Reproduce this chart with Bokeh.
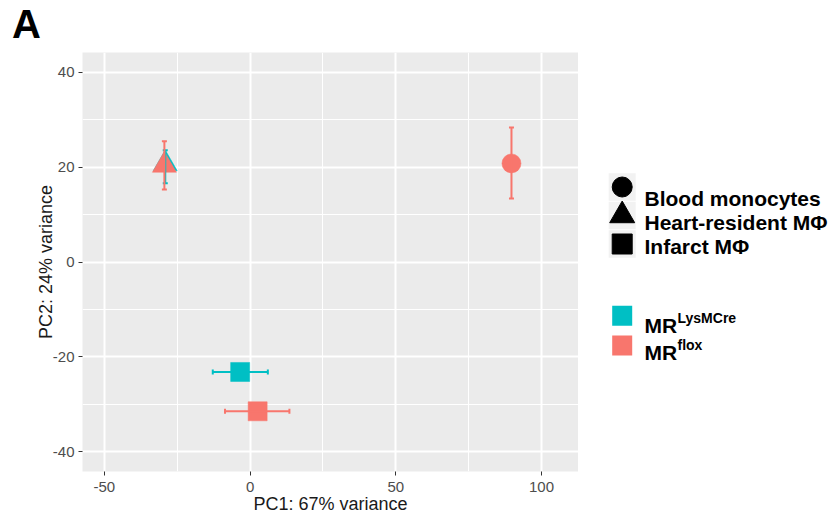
from bokeh.plotting import figure
from bokeh.models import (ColumnDataSource, Whisker, TeeHead, FixedTicker, Range1d, Label)
from bokeh.layouts import row
from bokeh.core.properties import value
from bokeh.embed import file_html
from bokeh.resources import INLINE

# ---------------- data ----------------
cell_type = ["Blood monocytes", "Heart-resident MΦ", "Heart-resident MΦ", "Infarct MΦ", "Infarct MΦ"]
genotype = ["MRflox", "MRLysMCre", "MRflox", "MRLysMCre", "MRflox"]
pc1 = [89.7, -29.1, -29.4, -3.4, 2.6]
pc2 = [20.8, 20.7, 20.4, -23.2, -31.5]
pc1_lo = [89.7, -29.1, -29.4, -12.8, -8.6]
pc1_hi = [89.7, -29.1, -29.4, 6.1, 13.5]
pc2_lo = [13.4, 16.6, 15.3, -23.2, -31.5]
pc2_hi = [28.4, 23.6, 25.5, -23.2, -31.5]

shape_levels = ["Blood monocytes", "Heart-resident MΦ", "Infarct MΦ"]
shape_markers = ["circle", "triangle", "square"]
shape_sizes = [19, 24, 19]
geno_levels = ["MRLysMCre", "MRflox"]
geno_base = ["MR", "MR"]
geno_sup = ["LysMCre", "flox"]
geno_colors = ["#00BFC4", "#F8766D"]

x_ticks = [-50, 0, 50, 100]
x_tick_labels = ["-50", "0", "50", "100"]
x_minor = [-25, 25, 75]
y_ticks = [-40, -20, 0, 20, 40]
y_tick_labels = ["-40", "-20", "0", "20", "40"]
y_minor = [-30, -10, 10, 30]
x_title = "PC1: 67% variance"
y_title = "PC2: 24% variance"
panel_letter = "A"

FONT = "Liberation Sans"
H = 516
FRAME_LEFT = 82
FRAME_TOP = 52
FRAME_BOTTOM = H - 45

# ---------------- main plot ----------------
p = figure(width=578, height=H, output_backend="svg", toolbar_location=None, title=None,
           x_range=Range1d(-57.5, 112.7), y_range=Range1d(-44.2, 44.2),
           min_border_left=FRAME_LEFT, min_border_right=0, min_border_top=FRAME_TOP, min_border_bottom=45)
p.background_fill_color = "#EBEBEB"
p.border_fill_color = "white"
p.outline_line_color = None

p.xaxis.ticker = FixedTicker(ticks=x_ticks, minor_ticks=x_minor)
p.yaxis.ticker = FixedTicker(ticks=y_ticks, minor_ticks=y_minor)
p.xaxis.major_label_overrides = {t: s for t, s in zip(x_ticks, x_tick_labels)}
p.yaxis.major_label_overrides = {t: s for t, s in zip(y_ticks, y_tick_labels)}
p.xaxis.axis_label = x_title
p.yaxis.axis_label = y_title
for ax in (p.xaxis[0], p.yaxis[0]):
    ax.axis_line_color = None
    ax.major_tick_in = 0
    ax.major_tick_out = 4
    ax.major_tick_line_color = "#333333"
    ax.minor_tick_line_color = None
    ax.major_label_text_font = FONT
    ax.major_label_text_font_size = "15px"
    ax.major_label_text_color = "#4D4D4D"
    ax.axis_label_text_font = FONT
    ax.axis_label_text_font_size = "18px"
    ax.axis_label_text_font_style = "normal"
    ax.axis_label_text_color = "#1a1a1a"
p.xaxis[0].major_label_standoff = 6
p.xaxis[0].axis_label_standoff = -1
p.yaxis[0].major_label_standoff = 4
p.yaxis[0].axis_label_standoff = -6

for g in (p.xgrid[0], p.ygrid[0]):
    g.grid_line_color = "white"
    g.grid_line_width = 2
    g.minor_grid_line_color = "white"
    g.minor_grid_line_width = 1

# points
for gi, gname in enumerate(geno_levels):
    for si, sname in enumerate(shape_levels):
        idx = [i for i in range(len(pc1)) if genotype[i] == gname and cell_type[i] == sname]
        if not idx:
            continue
        src = ColumnDataSource(dict(x=[pc1[i] for i in idx], y=[pc2[i] for i in idx]))
        p.scatter("x", "y", source=src, marker=shape_markers[si], size=shape_sizes[si],
                  fill_color=geno_colors[gi], line_color=geno_colors[gi], line_width=0.5)

# error bars
for gi, gname in enumerate(geno_levels):
    col = geno_colors[gi]
    v = [i for i in range(len(pc1)) if genotype[i] == gname and pc2_hi[i] > pc2_lo[i]]
    h = [i for i in range(len(pc1)) if genotype[i] == gname and pc1_hi[i] > pc1_lo[i]]
    if v:
        src = ColumnDataSource(dict(x=[pc1[i] for i in v], lo=[pc2_lo[i] for i in v], hi=[pc2_hi[i] for i in v]))
        p.add_layout(Whisker(source=src, base="x", lower="lo", upper="hi", dimension="height",
                             line_color=col, line_width=2, level="annotation",
                             lower_head=TeeHead(size=5, line_color=col, line_width=2),
                             upper_head=TeeHead(size=5, line_color=col, line_width=2)))
    if h:
        src = ColumnDataSource(dict(y=[pc2[i] for i in h], lo=[pc1_lo[i] for i in h], hi=[pc1_hi[i] for i in h]))
        p.add_layout(Whisker(source=src, base="y", lower="lo", upper="hi", dimension="width",
                             line_color=col, line_width=2, level="annotation",
                             lower_head=TeeHead(size=5, line_color=col, line_width=2),
                             upper_head=TeeHead(size=5, line_color=col, line_width=2)))

# panel letter in the top side panel (not clipped to the frame)
p.add_layout(Label(x=11.5 - FRAME_LEFT, y=29.0, x_units="screen", y_units="screen",
                   text=panel_letter, text_font=FONT, text_font_size="40px", text_font_style="bold",
                   text_color="black", text_baseline="alphabetic", text_align="left"), "above")

# ---------------- legend panel ----------------
# the row aligns this figure's frame with the main frame; its ranges are page pixels
lg = figure(width=250, height=H, output_backend="svg", toolbar_location=None, title=None,
            x_range=Range1d(578, 828), y_range=Range1d(FRAME_BOTTOM, FRAME_TOP),
            x_axis_location=None, y_axis_location=None, min_border=0)
lg.outline_line_color = None
lg.grid.visible = False
lg.background_fill_color = None
lg.border_fill_color = None

key_x = 621.7
text_x = 644.0
shape_key_top = 186.5
shape_key_step = 28.5
shape_text_top = 197.7
shape_text_step = 24.3
ky = [shape_key_top + i * shape_key_step for i in range(len(shape_levels))]
ty = [shape_text_top + i * shape_text_step for i in range(len(shape_levels))]
lg.rect(x=[key_x] * len(ky), y=ky, width=27, height=shape_key_step - 1, fill_color="#F2F2F2", line_color=None)
for i in range(len(shape_levels)):
    lg.scatter(x=[key_x], y=[ky[i]], marker=shape_markers[i], size=shape_sizes[i] + 1,
               fill_color="black", line_color="black")
lg.text(x=[text_x] * len(ty), y=ty, text=shape_levels,
        text_font=value(FONT), text_font_size=value("21px"), text_font_style="bold",
        text_baseline="alphabetic", text_align="left", text_color="black")

col_key_top = 315.3
col_key_step = 29.7
col_text_top = 325.0
col_text_step = 27.3
cy = [col_key_top + i * col_key_step for i in range(len(geno_levels))]
cty = [col_text_top + i * col_text_step for i in range(len(geno_levels))]
lg.rect(x=[key_x] * len(cy), y=cy, width=20, height=20, fill_color=geno_colors, line_color=None)
lg.text(x=[text_x] * len(cty), y=cty, text=geno_base,
        text_font=value(FONT), text_font_size=value("21px"), text_font_style="bold",
        text_baseline="alphabetic", text_align="left", text_color="black")
lg.text(x=[text_x + 33] * len(cty), y=[c - 8 for c in cty], text=geno_sup,
        text_font=value(FONT), text_font_size=value("14px"), text_font_style="bold",
        text_baseline="alphabetic", text_align="left", text_color="black")

layout = row(p, lg, spacing=0)
open("out.html", "w").write(file_html(layout, INLINE))
